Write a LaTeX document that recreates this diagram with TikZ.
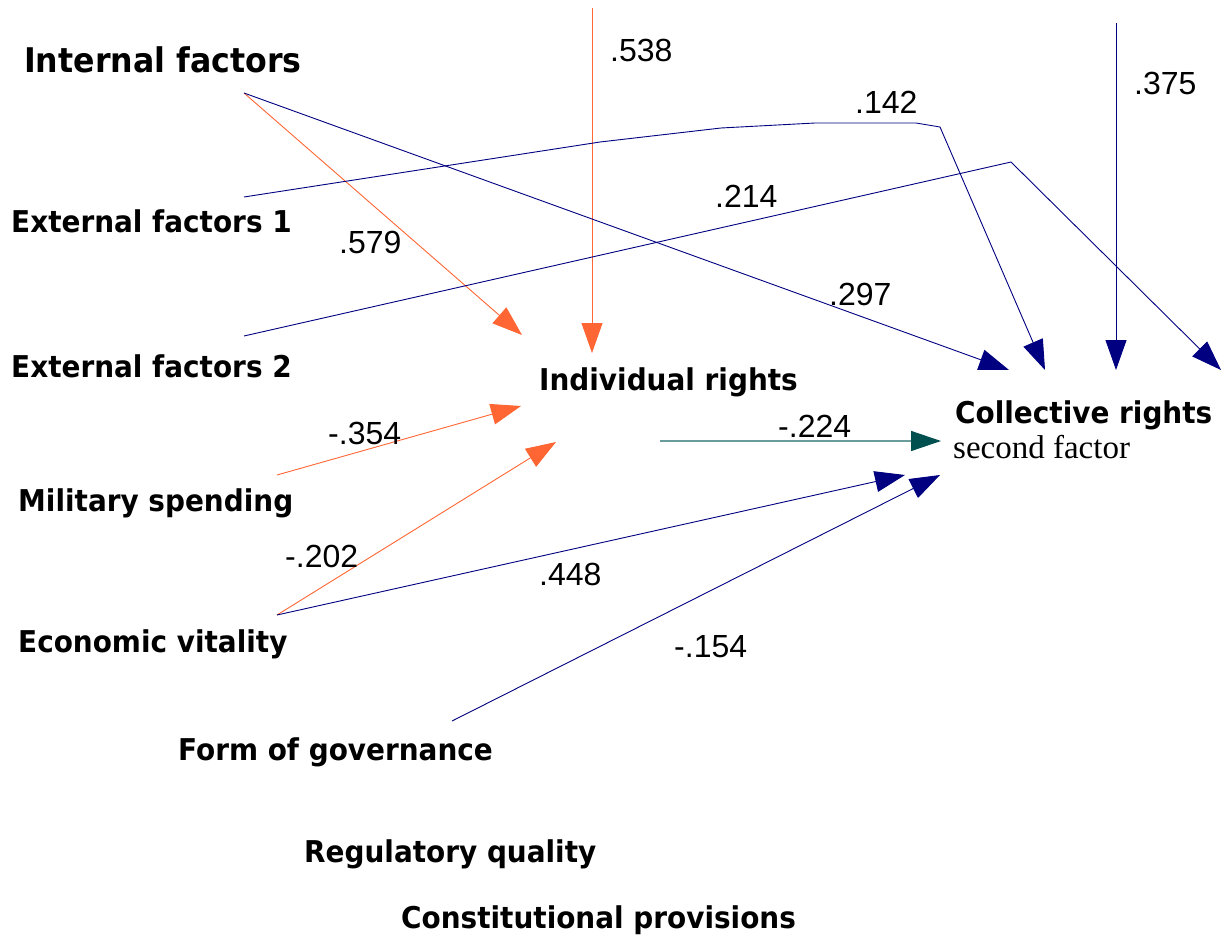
\documentclass[tikz,border=0pt]{standalone}
\usepackage{fontspec}
\setmainfont{Liberation Serif}
\newfontfamily\varfont[FakeStretch=0.93]{DejaVu Sans}
\newfontfamily\coeffont{Liberation Sans}
\usetikzlibrary{arrows.meta}

\definecolor{indivcol}{HTML}{FF6633}
\definecolor{collcol}{HTML}{000080}
\definecolor{tealline}{HTML}{6A9C9C}
\definecolor{tealhead}{HTML}{005050}

\tikzset{
	var/.style={anchor=base west, inner sep=0pt, font=\varfont\bfseries\fontsize{30}{36}\selectfont},
	coef/.style={anchor=base west, inner sep=0pt, font=\coeffont\fontsize{32}{38}\selectfont},
	toindiv/.style={draw=indivcol, line width=0.9pt, -{Triangle[length=30pt,width=21pt,fill=indivcol]}},
	tocoll/.style={draw=collcol, line width=0.9pt, -{Triangle[length=30pt,width=21pt,fill=collcol]}},
	tocross/.style={draw=tealline, line width=1.4pt, -{Triangle[length=30pt,width=20pt,color=tealhead,fill=tealhead]}}
}

\begin{document}
\begin{tikzpicture}[x=1pt,y=-1pt]
	\useasboundingbox (0,0) rectangle (1231,942);

	%Variables
	\node[var, font=\varfont\bfseries\fontsize{34}{40}\selectfont] (intf) at (24,73) {Internal factors};
	\node[var] (ext1) at (11,232) {External factors 1};
	\node[var] (ext2) at (11,377) {External factors 2};
	\node[var] (mil) at (18,511) {Military spending};
	\node[var] (econ) at (18,652) {Economic vitality};
	\node[var] (form) at (178,760) {Form of governance};
	\node[var] (regq) at (304,862) {Regulatory quality};
	\node[var] (const) at (401,928) {Constitutional provisions};
	\node[var] (indiv) at (539,390) {Individual rights};
	\node[var] (coll) at (955,423) {Collective rights};
	\node[anchor=base west, inner sep=0pt, font=\fontsize{33}{38}\selectfont] (second) at (953,458) {second factor};

	%Ends of the paths
	\coordinate (intf-out) at (244,93);
	\coordinate (ext1-out) at (244,197);
	\coordinate (ext2-out) at (244,336);
	\coordinate (mil-out) at (277,475);
	\coordinate (econ-out) at (277,615);
	\coordinate (form-out) at (452,721);
	\coordinate (top1) at (592,8);
	\coordinate (top2) at (1116,23);
	\coordinate (indiv-out) at (660,441);
	\coordinate (indiv-a) at (522,335);
	\coordinate (indiv-b) at (592,353);
	\coordinate (indiv-c) at (521,406);
	\coordinate (indiv-d) at (556,442);
	\coordinate (coll-a) at (1009,370);
	\coordinate (coll-b) at (1045,370);
	\coordinate (coll-c) at (1116,370);
	\coordinate (coll-d) at (1221,370);
	\coordinate (coll-e) at (941,441);
	\coordinate (coll-f) at (905,475);
	\coordinate (coll-g) at (940,475);

	%Paths to individual rights
	\draw[toindiv] (intf-out) -- (indiv-a);
	\draw[toindiv] (top1) -- (indiv-b);
	\draw[toindiv] (mil-out) -- (indiv-c);
	\draw[toindiv] (econ-out) -- (indiv-d);

	%Paths to collective rights
	\draw[tocoll] (intf-out) -- (coll-a);
	\draw[tocoll] (ext1-out) -- (600,142) -- (721,128) -- (815,123) -- (916,123) -- (940,127) -- (coll-b);
	\draw[tocoll] (top2) -- (coll-c);
	\draw[tocoll] (ext2-out) -- (1011,162) -- (coll-d);
	\draw[tocoll] (econ-out) -- (coll-f);
	\draw[tocoll] (form-out) -- (coll-g);
	\draw[tocross] (indiv-out) -- (coll-e);

	%Coefficients
	\node[coef] (c538) at (610,62) {.538};
	\node[coef] (c142) at (855,113) {.142};
	\node[coef] (c375) at (1134,95) {.375};
	\node[coef] (c214) at (715,207) {.214};
	\node[coef] (c579) at (339,253) {.579};
	\node[coef] (c297) at (829,305) {.297};
	\node[coef] (c354) at (328,444) {-.354};
	\node[coef] (c224) at (778,437) {-.224};
	\node[coef] (c202) at (285,567) {-.202};
	\node[coef] (c448) at (539,585) {.448};
	\node[coef] (c154) at (674,657) {-.154};
\end{tikzpicture}
\end{document}
